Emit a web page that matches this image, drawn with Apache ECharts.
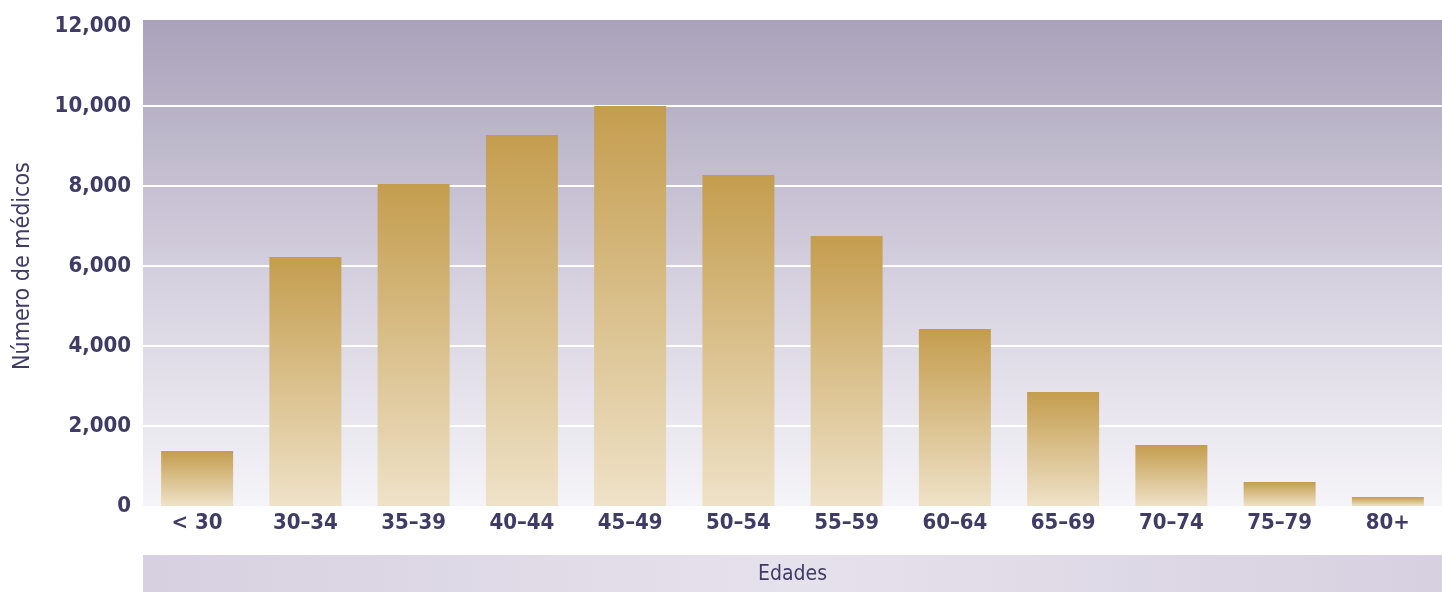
<!DOCTYPE html>
<html>
<head>
<meta charset="utf-8">
<script src="https://cdn.jsdelivr.net/npm/echarts@6/dist/echarts.min.js"></script>
<style>
  html, body { margin: 0; padding: 0; background: #fff; }
  #chart { width: 1442px; height: 592px; }
</style>
</head>
<body>
<div id="chart"></div>
<script>
var categories = ['< 30', '30–34', '35–39', '40–44', '45–49', '50–54', '55–59', '60–64', '65–69', '70–74', '75–79', '80+']
var medicos = [1375, 6225, 8050, 9275, 10000, 8275, 6750, 4425, 2850, 1525, 600, 225]
var yTicks = [0, 2000, 4000, 6000, 8000, 10000, 12000]

var textColor = '#3f3a66'
var font = '"Liberation Sans Narrow", "DejaVu Sans Condensed", sans-serif'

var chart = echarts.init(document.getElementById('chart'))
var option = {
  animation: false,
  grid: { left: 143, right: 0, top: 26, bottom: 86, outerBoundsMode: 'none' },
  graphic: [
    {
      type: 'rect', z: -10, silent: true,
      shape: { x: 143, y: 20, width: 1299, height: 486 },
      style: {
        fill: new echarts.graphic.LinearGradient(0, 0, 0, 1, [
          { offset: 0, color: '#a9a2ba' },
          { offset: 0.5, color: '#d3cedd' },
          { offset: 1, color: '#f5f4f8' }
        ])
      }
    },
    {
      type: 'rect', z: -10, silent: true,
      shape: { x: 143, y: 555, width: 1299, height: 37 },
      style: {
        fill: new echarts.graphic.LinearGradient(0, 0, 1, 0, [
          { offset: 0, color: '#d6d0e0' },
          { offset: 0.5, color: '#e6e2ec' },
          { offset: 1, color: '#d6d0e0' }
        ])
      }
    }
  ],
  xAxis: {
    type: 'category',
    data: categories,
    name: 'Edades',
    nameLocation: 'middle',
    nameGap: 58,
    nameTextStyle: { color: textColor, fontSize: 21, fontFamily: font },
    axisLine: { show: false },
    axisTick: { show: false },
    axisLabel: {
      color: textColor, fontSize: 22, fontWeight: 'bold', fontFamily: font, margin: 6
    }
  },
  yAxis: {
    type: 'value',
    min: yTicks[0],
    max: yTicks[yTicks.length - 1],
    interval: 2000,
    name: 'Número de médicos',
    nameLocation: 'middle',
    nameGap: 108,
    nameTextStyle: { color: textColor, fontSize: 23, fontFamily: font },
    axisLine: { show: false },
    axisTick: { show: false },
    axisLabel: {
      color: textColor, fontSize: 22, fontWeight: 'bold', fontFamily: font, margin: 12,
      formatter: function (v) { return v.toLocaleString('en-US') }
    },
    splitLine: {
      lineStyle: {
        width: 2,
        color: ['transparent', '#ffffff', '#ffffff', '#ffffff', '#ffffff', '#ffffff', 'transparent']
      }
    }
  },
  series: [
    {
      type: 'bar',
      data: medicos,
      barWidth: 72,
      itemStyle: {
        color: new echarts.graphic.LinearGradient(0, 0, 0, 1, [
          { offset: 0, color: '#c49d4e' },
          { offset: 1, color: '#efe2c8' }
        ])
      }
    }
  ]
}
chart.setOption(option)
</script>
</body>
</html>
